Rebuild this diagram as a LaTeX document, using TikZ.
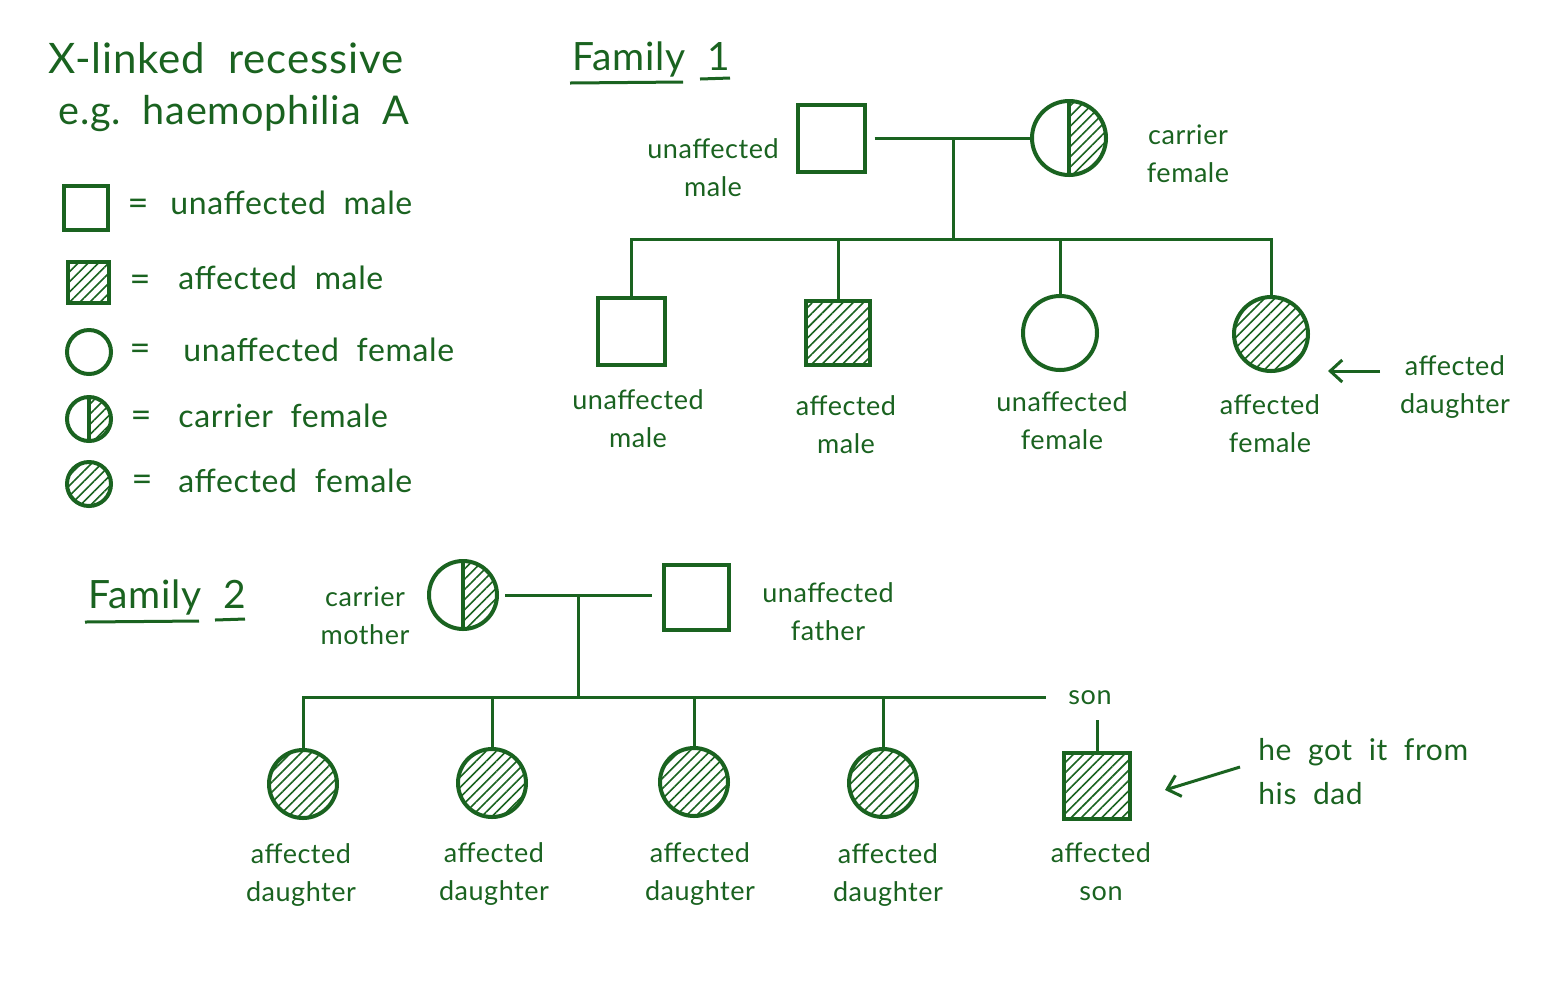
\documentclass[tikz,border=0pt]{standalone}
\usepackage{fontspec}
\setmainfont{Lato}[LetterSpace=2,WordSpace=2]
\usetikzlibrary{patterns.meta,arrows.meta}
\definecolor{ink}{HTML}{1A6320}
\begin{document}
\frenchspacing
\begin{tikzpicture}[x=0.5pt,y=-0.5pt,
  every node/.style={text=ink},
  line/.style={draw=ink,line width=1.5pt},
  arr/.style={draw=ink,line width=1.5pt,-{Straight Barb[length=6pt,width=11pt]}},
  hatch/.style={pattern={Lines[angle=45,distance=3.6pt,line width=0.8pt]},pattern color=ink},
  sym/.style={draw=ink,line width=2pt,inner sep=0pt},
  sqbox/.style={sym,rectangle,minimum size=33.5pt},
  circ/.style={sym,circle,minimum size=37pt},
  carrier/.style={path picture={
      \path[hatch] (path picture bounding box.north) rectangle (path picture bounding box.south east);
      \draw[ink,line width=2pt] (path picture bounding box.north) -- (path picture bounding box.south);}},
  lbl/.style={font=\fontsize{13.5}{19}\selectfont,align=center,inner sep=0pt},
  leg/.style={font=\fontsize{16}{19}\selectfont,anchor=base west,inner sep=0pt},
  eq/.style={font=\fontsize{18}{20}\selectfont,inner sep=0pt},
  ttl/.style={font=\fontsize{21}{24}\selectfont,anchor=base west,inner sep=0pt},
  fam/.style={font=\fontsize{19.5}{24}\selectfont,anchor=base west,inner sep=0pt}
]
\useasboundingbox[fill=white] (0,0) rectangle (1568,1003);

% ---------- title ----------
\node[ttl] (title1) at (48,73) {X-linked recessive};
\node[ttl,font=\fontsize{19.8}{24}\selectfont] (title2) at (58,124) {e.g. haemophilia A};

% ---------- legend ----------
\node[sqbox,minimum size=22pt] (k1) at (86,208) {};
\node[sqbox,hatch,minimum size=20.5pt] (k2) at (88,282) {};
\node[circ,minimum size=22pt] (k3) at (89,352) {};
\node[circ,carrier,minimum size=22pt] (k4) at (89,419) {};
\node[circ,hatch,minimum size=22pt] (k5) at (89,484) {};
\node[eq] (e1) at (138,207) {=};
\node[eq] (e2) at (140,283) {=};
\node[eq] (e3) at (140,352) {=};
\node[eq] (e4) at (141,419) {=};
\node[eq] (e5) at (142,483) {=};
\node[leg] (l1) at (170,214) {unaffected male};
\node[leg] (l2) at (178,289) {affected male};
\node[leg] (l3) at (183,361) {unaffected female};
\node[leg] (l4) at (178,427) {carrier female};
\node[leg] (l5) at (178,492) {affected female};

% ---------- Family 1 ----------
\node[fam] (fam1) at (572,70) {Family 1};
\draw[line] (570,83) -- (683,82);
\draw[line] (700,79) -- (730,78);

\node[sqbox] (f1dad) at (831,138) {};
\node[circ,carrier] (f1mom) at (1069,138) {};
\coordinate (f1m) at (953,138);
\coordinate (f1s) at (953,239);
\node[sqbox] (f1c1) at (631,331) {};
\node[sqbox,hatch,minimum size=32pt] (f1c2) at (838,333) {};
\node[circ] (f1c3) at (1060,333) {};
\node[circ,hatch] (f1c4) at (1271,334) {};

\draw[line] ([xshift=4pt]f1dad.east) -- (f1mom.west);
\draw[line] (f1m) -- (f1s);
\draw[line] (f1c1.north) -- (f1c1.north |- f1s) -- (f1c4.north |- f1s) -- (f1c4.north);
\draw[line] (f1c2.north) -- (f1c2.north |- f1s);
\draw[line] (f1c3.north) -- (f1c3.north |- f1s);

\node[lbl] (t1) at (713,168) {unaffected\\male};
\node[lbl] (t2) at (1188,154) {carrier\\female};
\node[lbl] (t3) at (638,419) {unaffected\\male};
\node[lbl] (t4) at (846,425) {affected\\male};
\node[lbl] (t5) at (1062,421) {unaffected\\female};
\node[lbl] (t6) at (1270,424) {affected\\female};
\node[lbl] (t7) at (1455,387) {affected\\daughter};
\coordinate (a1s) at (1380,371);
\coordinate (a1e) at (1328,371);
\draw[arr] (a1s) -- (a1e);

% ---------- Family 2 ----------
\node[fam] (fam2) at (88,608) {Family 2};
\draw[line] (85,622) -- (199,621);
\draw[line] (215,620) -- (245,619);

\node[circ,carrier,minimum size=34pt] (f2mom) at (463,595) {};
\node[sqbox,minimum size=32.5pt] (f2dad) at (696,597) {};
\coordinate (f2m) at (578,595);
\coordinate (f2s) at (578,697);
\coordinate (f2end) at (1046,697);
\draw[line] ([xshift=3pt]f2mom.east) -- ([xshift=-5pt]f2mom.east -| f2dad.west);
\draw[line] (f2m) -- (f2s);

\node[circ,hatch,minimum size=34pt] (d1) at (303,784) {};
\node[circ,hatch,minimum size=34pt] (d2) at (492,783) {};
\node[circ,hatch,minimum size=34pt] (d3) at (694,782) {};
\node[circ,hatch,minimum size=34pt] (d4) at (883,783) {};
\node[sqbox,hatch,minimum size=33pt] (son) at (1097,786) {};

\draw[line] (d1.north) -- (d1.north |- f2s) -- (f2end);
\draw[line] (d2.north) -- (d2.north |- f2s);
\draw[line] (d3.north) -- (d3.north |- f2s);
\draw[line] (d4.north) -- (d4.north |- f2s);
\coordinate (sonstub) at (1097,720);
\draw[line] (sonstub) -- (son.north);

\node[lbl] (sonlbl) at (1090,698) {son};
\node[lbl] (m1) at (365,616) {carrier\\mother};
\node[lbl] (m2) at (828,612) {unaffected\\father};
\node[lbl] (g1) at (301,875) {affected\\daughter};
\node[lbl] (g2) at (494,874) {affected\\daughter};
\node[lbl] (g3) at (700,874) {affected\\daughter};
\node[lbl] (g4) at (888,875) {affected\\daughter};
\node[lbl] (g5) at (1101,872) {affected\\son};
\node[lbl,font=\fontsize{15}{22}\selectfont,align=left,anchor=west] (note) at (1258,772) {he got it from\\his dad};
\coordinate (a2s) at (1240,767);
\coordinate (a2e) at (1165,790);
\draw[arr] (a2s) -- (a2e);
\end{tikzpicture}
\end{document}
